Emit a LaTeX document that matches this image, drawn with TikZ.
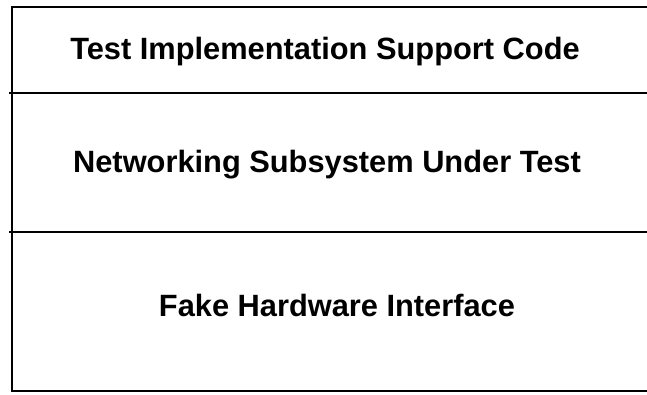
\documentclass[tikz,border=0pt]{standalone}
\usepackage{fontspec}
\setmainfont{Liberation Sans}
\begin{document}
\begin{tikzpicture}[x=1pt, y=-1pt,
    layer/.style={anchor=base, font=\fontsize{30.8}{36}\selectfont\bfseries},
    rule/.style={line width=2pt}]
    \useasboundingbox (0,0) rectangle (647,394);
    % outline, open on the right
    \draw[rule] (647,7) -- (12,7) -- (12,391) -- (647,391);
    \draw[rule] (9,93) -- (647,93);
    \draw[rule] (9,232) -- (647,232);
    % layer names
    \node[layer] (support) at (325,59) {Test Implementation Support Code};
    \node[layer] (netsub) at (327,172) {Networking Subsystem Under Test};
    \node[layer] (fakehw) at (337,316) {Fake Hardware Interface};
\end{tikzpicture}
\end{document}
